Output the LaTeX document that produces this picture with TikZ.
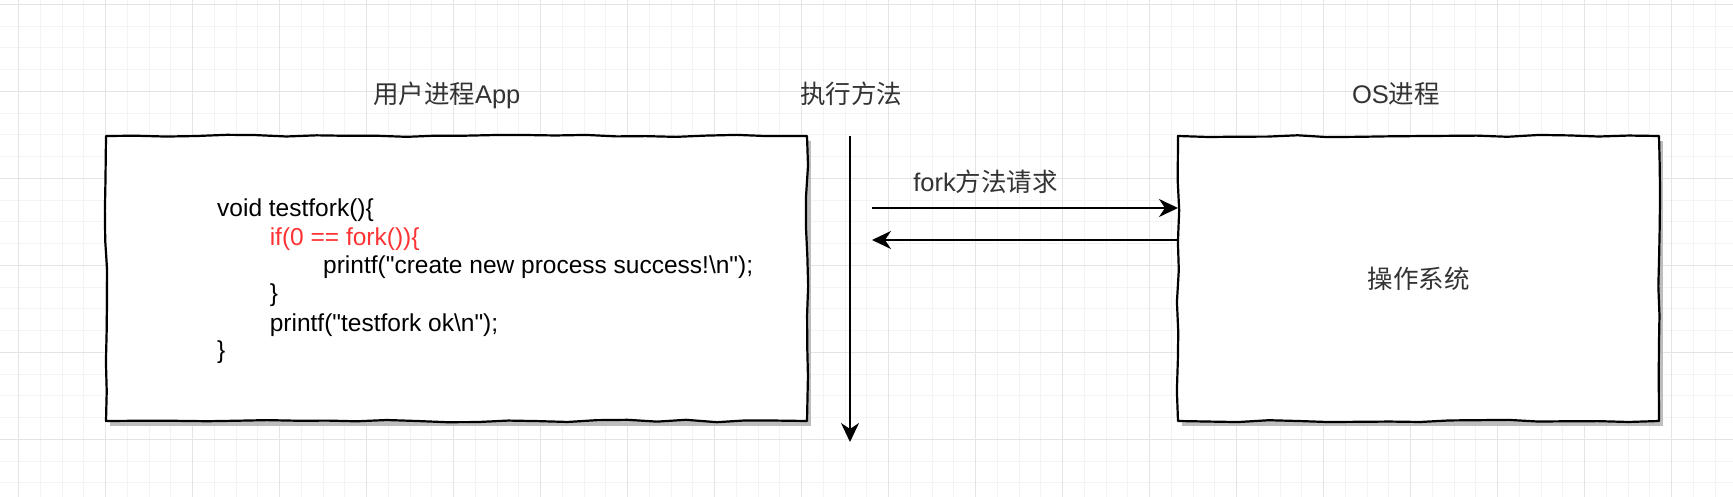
\documentclass[tikz,border=0pt]{standalone}
\usepackage{fontspec}
\setmainfont{Liberation Sans}
\newfontfamily\cjk{Noto Sans CJK SC}
\usetikzlibrary{arrows.meta,decorations.pathmorphing,shadows}
\definecolor{gridmajor}{HTML}{E4E4E4}
\definecolor{gridminor}{HTML}{F3F3F3}
\definecolor{codered}{HTML}{FF3333}
\definecolor{shadowgray}{HTML}{BDBDBD}
\definecolor{cjkgray}{HTML}{333333}
\begin{document}
\begin{tikzpicture}[x=1pt,y=-1pt,
  minorgrid/.style={draw=gridminor, line width=1pt},
  majorgrid/.style={draw=gridmajor, line width=1pt},
  boxfill/.style={draw=none, fill=white, inner sep=0pt, outer sep=0pt,
    drop shadow={shadow xshift=4pt, shadow yshift=-5pt, fill=shadowgray, opacity=1}},
  sketchline/.style={draw=black, line width=2.2pt, line join=round, line cap=round,
    decorate, decoration={random steps, segment length=30pt, amplitude=1.2pt}},
  titletext/.style={inner sep=0pt, text=cjkgray, font=\fontsize{25.5}{30}\selectfont},
  codetext/.style={inner sep=0pt, anchor=base west, text=black, font=\fontsize{24.5}{29}\selectfont},
  arr/.style={line width=2.2pt, -{Stealth[length=19pt,width=18pt,inset=6pt]}}]
\pgfmathsetseed{7}
\useasboundingbox (0,0) rectangle (1733,497);
% background and grid
\begin{scope}
\clip (0,0) rectangle (1733,497);
\fill[white] (0,0) rectangle (1733,497);
\foreach \i in {0,...,80} {\draw[minorgrid] ({-3.25+\i*21.75},0) -- ({-3.25+\i*21.75},497);}
\foreach \i in {0,...,23} {\draw[minorgrid] (0,{4.3+\i*21.75}) -- (1733,{4.3+\i*21.75});}
\foreach \i in {0,...,19} {\draw[majorgrid] ({18.5+\i*87},0) -- ({18.5+\i*87},497);}
\foreach \i in {0,...,5} {\draw[majorgrid] (0,{4.3+\i*87}) -- (1733,{4.3+\i*87});}
\end{scope}

% boxes
\node[boxfill, minimum width=701pt, minimum height=285pt] (app) at (456.5,278.5) {};
\draw[sketchline] (app.north west) -- (app.north east) -- (app.south east) -- (app.south west) -- cycle;
\node[boxfill, minimum width=481pt, minimum height=285pt, text=cjkgray,
      font=\fontsize{25.5}{30}\selectfont] (os) at (1418.5,278.5) {\cjk 操作系统};
\draw[sketchline] (os.north west) -- (os.north east) -- (os.south east) -- (os.south west) -- cycle;

% titles
\node[titletext, anchor=base] (ttlapp) at (446.7,103.3) {{\cjk 用户进程}App};
\node[titletext, anchor=base] (ttlexec) at (851,103.3) {\cjk 执行方法};
\node[titletext, anchor=base] (ttlos) at (1396,103.3) {OS{\cjk 进程}};
\node[titletext, anchor=base] (lblfork) at (985.5,191.7) {fork{\cjk 方法请求}};

% code
\node[codetext] (l1) at (217,216.7) {void testfork()\{};
\node[codetext, text=codered] (l2) at (269.6,245.3) {if(0 == fork())\{};
\node[codetext] (l3) at (323,273.9) {printf(\textquotedbl create new process success!\textbackslash n\textquotedbl);};
\node[codetext] (l4) at (269.6,301.5) {\}};
\node[codetext] (l5) at (269.6,331.1) {printf(\textquotedbl testfork ok\textbackslash n\textquotedbl);};
\node[codetext] (l6) at (217,358.7) {\}};

% connectors
\coordinate (vtop) at (850,136);
\coordinate (vbot) at (850,442);
\draw[arr] (vtop) -- (vbot);
\coordinate (req) at (872,208);
\draw[arr] (req) -- (req -| os.west);
\coordinate (ret) at (872,240);
\draw[arr] (ret -| os.west) -- (ret);
\end{tikzpicture}
\end{document}
